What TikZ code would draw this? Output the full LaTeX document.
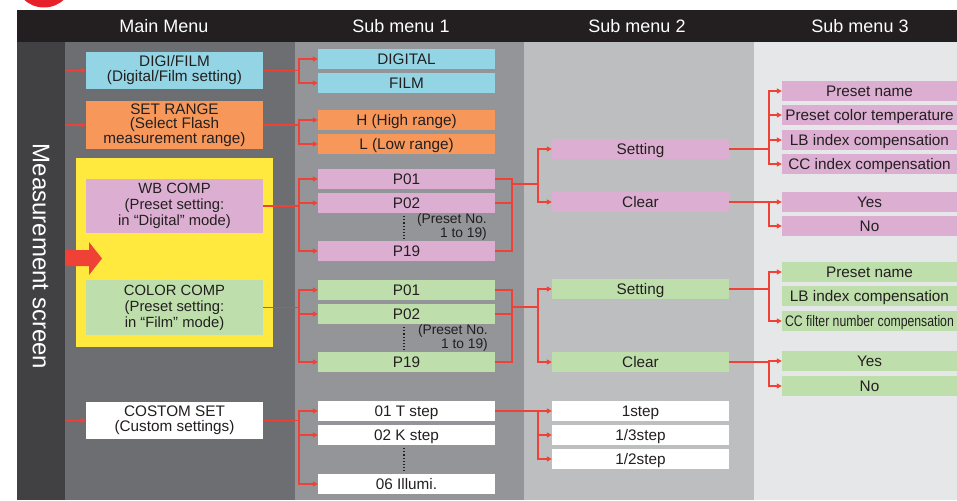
\documentclass[tikz,border=0pt]{standalone}
\usepackage{fontspec}
\setmainfont{Liberation Sans}
\usetikzlibrary{arrows.meta}
\definecolor{hdr}{HTML}{231F20}
\definecolor{colA}{HTML}{414042}
\definecolor{colB}{HTML}{6D6E71}
\definecolor{colC}{HTML}{939598}
\definecolor{colD}{HTML}{BCBEC0}
\definecolor{colE}{HTML}{E6E7E8}
\definecolor{bblue}{HTML}{93D5E4}
\definecolor{borange}{HTML}{F7985A}
\definecolor{bpink}{HTML}{DCAFD2}
\definecolor{bgreen}{HTML}{BEDFAB}
\definecolor{byellow}{HTML}{FFE93F}
\definecolor{redc}{HTML}{E8202A}
\definecolor{redl}{HTML}{EF4136}
\definecolor{txt}{HTML}{231F20}
\tikzset{
  mainbx/.style={inner sep=0pt, minimum width=177pt, minimum height=20pt, align=center,
    font=\fontsize{15.3}{15}\selectfont, text=txt},
  bx/.style={mainbx, text height=11pt, text depth=0pt},
  bx3/.style={bx, minimum width=175pt},
  hdrtxt/.style={text=white, font=\fontsize{18}{18}\selectfont, inner sep=0pt},
  ln/.style={draw=redl, line width=1.6pt},
  arr/.style={ln, -{Triangle[length=5pt,width=5pt]}},
  note/.style={font=\fontsize{13.8}{11.5}\selectfont, text=txt, align=right, inner sep=0pt},
  dotln/.style={draw=txt, line width=1.2pt, dash pattern=on 1.2pt off 2pt}
}
\begin{document}
\begin{tikzpicture}[x=1pt,y=-1pt]
\useasboundingbox (0,0) rectangle (957,500);
\clip (0,0) rectangle (957,500);
\fill[white] (0,0) rectangle (957,500);
\fill[redc] (44,-22) circle[radius=29.5pt];
% header and columns
\fill[hdr] (17,10) rectangle (957,42);
\fill[colA] (17,42) rectangle (65,500);
\fill[colB] (65,42) rectangle (295,500);
\fill[colC] (295,42) rectangle (524,500);
\fill[colD] (524,42) rectangle (754,500);
\fill[colE] (754,42) rectangle (957,500);
\node[hdrtxt] (h0) at (164,26) {Main Menu};
\node[hdrtxt] (h1) at (401,26) {Sub menu 1};
\node[hdrtxt] (h2) at (637,26) {Sub menu 2};
\node[hdrtxt] (h3) at (860,26) {Sub menu 3};
\node[text=white, font=\fontsize{24}{24}\selectfont, rotate=-90, inner sep=0pt] (ms) at (41,256.5) {Measurement screen};
% yellow frame and big arrow
\fill[byellow] (76,158) rectangle (273,347);
\fill[redl] (65,250) -- (89,250) -- (89,242) -- (102,258.5) -- (89,275) -- (89,266) -- (65,266) -- cycle;
% main menu
\node[mainbx, fill=bblue, minimum height=37pt] (digi) at (174.5,70.5) {DIGI/FILM\\(Digital/Film setting)};
\node[mainbx, fill=borange, minimum height=48pt, font=\fontsize{15.3}{14}\selectfont] (setr) at (174.5,125) {SET RANGE\\(Select Flash\\measurement range)};
\node[mainbx, fill=bpink, minimum height=54pt, font=\fontsize{14.8}{16}\selectfont] (wb) at (174.5,206) {WB COMP\\(Preset setting:\\in “Digital” mode)};
\node[mainbx, fill=bgreen, minimum height=55pt, font=\fontsize{14.8}{16}\selectfont] (cc) at (174.5,307.5) {COLOR COMP\\(Preset setting:\\in “Film” mode)};
\node[mainbx, fill=white, minimum height=37pt] (cs) at (174.5,420.5) {COSTOM SET\\(Custom settings)};
% sub menu 1
\node[bx, fill=bblue] (dg) at (406.5,59) {DIGITAL};
\node[bx, fill=bblue] (fm) at (406.5,83) {FILM};
\node[bx, fill=borange] (hr) at (406.5,120) {H (High range)};
\node[bx, fill=borange] (lr) at (406.5,144) {L (Low range)};
\node[bx, fill=bpink] (pa1) at (406.5,179) {P01};
\node[bx, fill=bpink] (pa2) at (406.5,203) {P02};
\node[bx, fill=bpink] (pa19) at (406.5,251) {P19};
\node[bx, fill=bgreen] (pb1) at (406.5,290) {P01};
\node[bx, fill=bgreen] (pb2) at (406.5,314) {P02};
\node[bx, fill=bgreen] (pb19) at (406.5,362) {P19};
\node[bx, fill=white] (t1) at (406.5,411) {01 T step};
\node[bx, fill=white] (t2) at (406.5,435) {02 K step};
\node[bx, fill=white] (t6) at (406.5,484) {06 Illumi.};
\draw[dotln] (404,216) -- (404,239);
\draw[dotln] (404,327) -- (404,350);
\draw[dotln] (404,448) -- (404,471);
\node[note, anchor=east] (na) at (487,227) {(Preset No.\\1 to 19)};
\node[note, anchor=east] (nb) at (488,338) {(Preset No.\\1 to 19)};
% sub menu 2
\node[bx, fill=bpink] (sp) at (640.5,149) {Setting};
\node[bx, fill=bpink] (cp) at (640.5,202) {Clear};
\node[bx, fill=bgreen] (sg) at (640.5,289) {Setting};
\node[bx, fill=bgreen] (cg) at (640.5,362) {Clear};
\node[bx, fill=white] (s1) at (640.5,411) {1step};
\node[bx, fill=white] (s13) at (640.5,435) {1/3step};
\node[bx, fill=white] (s12) at (640.5,459) {1/2step};
% sub menu 3
\node[bx3, fill=bpink] (pn) at (869.5,91) {Preset name};
\node[bx3, fill=bpink] (pct) at (869.5,115) {Preset color temperature};
\node[bx3, fill=bpink] (lb) at (869.5,140) {LB index compensation};
\node[bx3, fill=bpink] (ci) at (869.5,164) {CC index compensation};
\node[bx3, fill=bpink] (y1) at (869.5,202) {Yes};
\node[bx3, fill=bpink] (n1) at (869.5,226) {No};
\node[bx3, fill=bgreen] (pn2) at (869.5,272) {Preset name};
\node[bx3, fill=bgreen] (lb2) at (869.5,296) {LB index compensation};
\node[bx3, fill=bgreen] (cf) at (869.5,321) {\scalebox{0.8}[1]{CC filter number compensation}};
\node[bx3, fill=bgreen] (y2) at (869.5,361) {Yes};
\node[bx3, fill=bgreen] (n2) at (869.5,386) {No};
% junction columns
\coordinate (c0) at (65,0);
\coordinate (v1) at (299,0);
\coordinate (v2) at (538,0);
\coordinate (v3) at (769,0);
\coordinate (ja) at (512,184);
\coordinate (jb) at (512,307);
% entry arrows
\draw[arr] (digi.west -| c0) -- (digi.west);
\draw[arr] (setr.west -| c0) -- (setr.west);
\draw[arr] (cs.west -| c0) -- (cs.west);
% main -> sub1
\draw[ln] (digi.east) -- (digi.east -| v1);
\draw[arr] (digi.east -| v1) |- (dg.west);
\draw[arr] (digi.east -| v1) |- (fm.west);
\draw[ln] (setr.east) -- (setr.east -| v1);
\draw[arr] (setr.east -| v1) |- (hr.west);
\draw[arr] (setr.east -| v1) |- (lr.west);
\draw[ln] (wb.east) -- (wb.east -| v1);
\draw[arr] (wb.east -| v1) |- (pa1.west);
\draw[arr] (wb.east -| v1) |- (pa2.west);
\draw[arr] (wb.east -| v1) |- (pa19.west);
\draw[ln] (cc.east) -- (cc.east -| v1);
\draw[arr] (cc.east -| v1) |- (pb1.west);
\draw[arr] (cc.east -| v1) |- (pb2.west);
\draw[arr] (cc.east -| v1) |- (pb19.west);
\draw[ln] (cs.east) -- (cs.east -| v1);
\draw[arr] (cs.east -| v1) |- (t1.west);
\draw[arr] (cs.east -| v1) |- (t2.west);
\draw[arr] (cs.east -| v1) |- (t6.west);
% sub1 -> sub2
\draw[ln] (pa1.east) -| (ja);
\draw[ln] (pa2.east) -| (ja);
\draw[ln] (pa19.east) -| (ja);
\draw[ln] (ja) -- (ja -| v2);
\draw[arr] (ja -| v2) |- (sp.west);
\draw[arr] (ja -| v2) |- (cp.west);
\draw[ln] (pb1.east) -| (jb);
\draw[ln] (pb2.east) -| (jb);
\draw[ln] (pb19.east) -| (jb);
\draw[ln] (jb) -- (jb -| v2);
\draw[arr] (jb -| v2) |- (sg.west);
\draw[arr] (jb -| v2) |- (cg.west);
\draw[ln] (t1.east) -- (t1.east -| v2);
\draw[arr] (t1.east -| v2) -- (s1.west);
\draw[arr] (t1.east -| v2) |- (s13.west);
\draw[arr] (t1.east -| v2) |- (s12.west);
% sub2 -> sub3
\draw[ln] (sp.east) -- (sp.east -| v3);
\draw[arr] (sp.east -| v3) |- (pn.west);
\draw[arr] (sp.east -| v3) |- (pct.west);
\draw[arr] (sp.east -| v3) |- (lb.west);
\draw[arr] (sp.east -| v3) |- (ci.west);
\draw[ln] (cp.east) -- (cp.east -| v3);
\draw[arr] (cp.east -| v3) |- (y1.west);
\draw[arr] (cp.east -| v3) |- (n1.west);
\draw[ln] (sg.east) -- (sg.east -| v3);
\draw[arr] (sg.east -| v3) |- (pn2.west);
\draw[arr] (sg.east -| v3) |- (cf.west);
\draw[ln] (cg.east) -- (cg.east -| v3);
\draw[arr] (cg.east -| v3) |- (y2.west);
\draw[arr] (cg.east -| v3) |- (n2.west);
\end{tikzpicture}
\end{document}
